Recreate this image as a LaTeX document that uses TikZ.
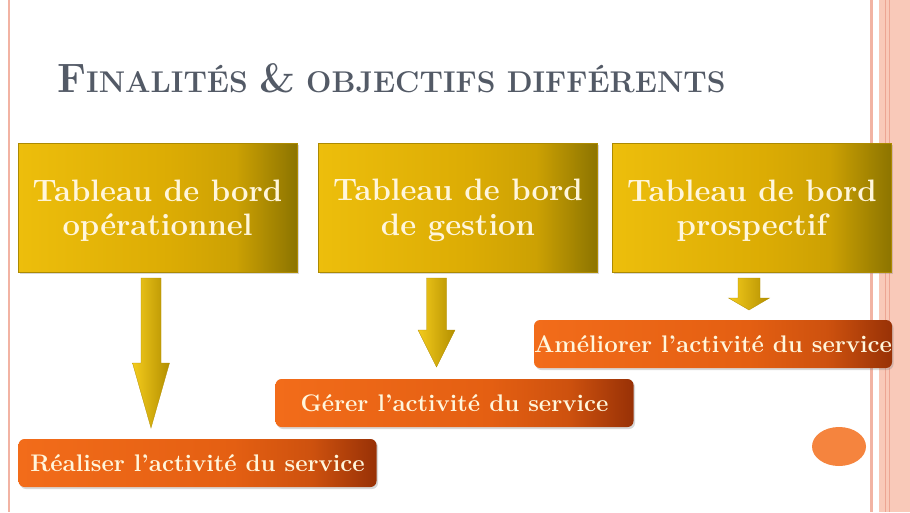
\documentclass[tikz,border=0pt]{standalone}
\usepackage{fontspec}
\usetikzlibrary{shadows,calc}
\definecolor{titlegray}{HTML}{535A66}
\definecolor{goldL}{HTML}{EDBE0C}
\definecolor{goldM}{HTML}{DCAC04}
\definecolor{goldR}{HTML}{8C7400}
\definecolor{orangeL}{HTML}{F26C1A}
\definecolor{orangeM}{HTML}{E45F12}
\definecolor{orangeR}{HTML}{983106}
\definecolor{txtcream}{HTML}{FFF6DC}
\definecolor{pinkline}{HTML}{F2B3A3}
\definecolor{pinkband}{HTML}{F9C9B9}
\definecolor{pinkdark}{HTML}{EDA593}
\definecolor{ovalc}{HTML}{F5843E}
\definecolor{arrowL}{HTML}{F4CB1C}
\definecolor{arrowR}{HTML}{B38F00}
\pgfdeclarehorizontalshading{goldsh}{100bp}{color(0bp)=(goldL); color(25bp)=(goldL); color(52bp)=(goldM); color(64bp)=(goldM!80!goldR); color(75bp)=(goldR); color(100bp)=(goldR)}
\pgfdeclarehorizontalshading{orsh}{100bp}{color(0bp)=(orangeL); color(25bp)=(orangeL); color(55bp)=(orangeM); color(66bp)=(orangeM!70!orangeR); color(75bp)=(orangeR); color(100bp)=(orangeR)}
\tikzset{
  goldbox/.style={rectangle, minimum width=279pt, minimum height=129pt,
    shading=goldsh, draw=goldR!60!goldM, line width=0.3pt,
    drop shadow={opacity=0.3, shadow xshift=1.5pt, shadow yshift=-2pt}},
  goldtxt/.style={text=txtcream, font=\fontsize{31}{34.5}\selectfont\bfseries, align=center, inner sep=0pt},
  orbox/.style={rectangle, rounded corners=6pt, minimum width=358pt, minimum height=48pt,
    shading=orsh,
    drop shadow={opacity=0.3, shadow xshift=1.5pt, shadow yshift=-2pt},
    text=txtcream, font=\fontsize{24}{28}\selectfont\bfseries, inner sep=0pt},
  goldarrow/.style={left color=arrowL, right color=arrowR, draw=arrowR, line width=0.3pt}
}
\newcommand\blockarr[6]{% cx, top, neck, tip, shaft half, head half
  \shade[goldarrow] (#1-#5,#2) -- (#1+#5,#2) -- (#1+#5,#3) -- (#1+#6,#3) -- (#1,#4)
    -- (#1-#6,#3) -- (#1-#5,#3) -- cycle;}
\begin{document}
\begin{tikzpicture}[x=1pt,y=-1pt]
\useasboundingbox (0,0) rectangle (910,512);
\fill[white] (0,0) rectangle (910,512);
% borders
\fill[pinkline] (7.5,0) rectangle (9.5,512);
\fill[pinkline] (869.5,0) rectangle (872.5,512);
\fill[pinkband] (879,0) rectangle (910,512);
\fill[pinkdark] (885,0) rectangle (886,512);
\fill[pinkdark] (888.5,0) rectangle (889.5,512);
% title
\node[anchor=base west, text=titlegray, inner sep=0pt] (title) at (57,92)
  {\fontsize{41}{44}\selectfont\bfseries F\fontsize{30}{32}\selectfont INALITÉS \fontsize{41}{44}\selectfont\&\fontsize{30}{32}\selectfont{} OBJECTIFS DIFFÉRENTS};
% gold boxes
\node[goldbox] (g1) at (157.5,207.5) {};
\node[goldbox] (g2) at (458,207.5) {};
\node[goldbox] (g3) at (752,207.5) {};
\node[goldtxt] (g1t) at ([yshift=-3pt]g1.center) {Tableau de bord\\opérationnel};
\node[goldtxt] (g2t) at ([yshift=-3pt]g2.center) {Tableau de bord\\de gestion};
\node[goldtxt] (g3t) at ([yshift=-3pt]g3.center) {Tableau de bord\\prospectif};
% arrows
\blockarr{151}{278}{363}{428}{10}{18.5}
\blockarr{436.5}{278}{330}{367}{10}{18.5}
\blockarr{749}{278}{298}{310}{11}{20.5}
% orange boxes
\node[orbox] (o1) at (197.5,463) {Réaliser l’activité du service};
\node[orbox] (o2) at (454.5,403) {Gérer l’activité du service};
\node[orbox] (o3) at (713,344) {Améliorer l’activité du service};
% oval
\fill[ovalc] (839,446.5) ellipse (27pt and 19.5pt);
\end{tikzpicture}
\end{document}
